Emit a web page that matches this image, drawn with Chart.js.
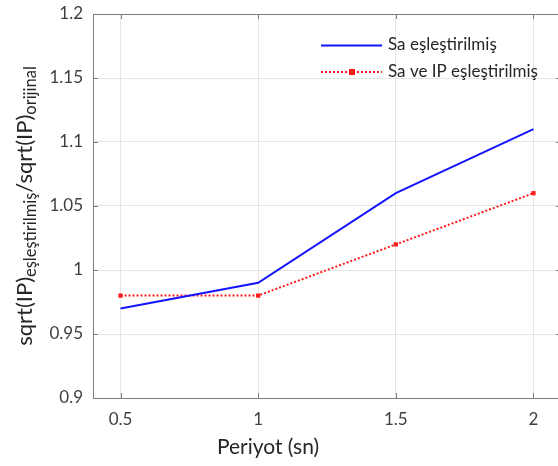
<!DOCTYPE html>
<html>
<head>
<meta charset="utf-8">
<script src="https://cdn.jsdelivr.net/npm/chart.js@4"></script>
<style>
html, body { margin: 0; padding: 0; overflow: hidden; background: #fff; }
canvas { display: block; }
</style>
</head>
<body>
<canvas id="chart" width="566" height="466"></canvas>
<script>
// data
const periods = [0.5, 1, 1.5, 2];
const saMatched = [0.97, 0.99, 1.06, 1.11];
const saIpMatched = [0.98, 0.98, 1.02, 1.06];

const xTicks = [0.5, 1, 1.5, 2];
const xTickLabels = ['0.5', '1', '1.5', '2'];
const yTicks = [0.9, 0.95, 1, 1.05, 1.1, 1.15, 1.2];
const yTickLabels = ['0.9', '0.95', '1', '1.05', '1.1', '1.15', '1.2'];

const seriesNames = ['Sa eşleştirilmiş', 'Sa ve IP eşleştirilmiş'];
const xTitle = 'Periyot (sn)';

const FONT = 'Lato, "Open Sans", sans-serif';
const BLUE = '#1414ff';
const RED = '#ff1a1a';

//********************************************************************************
///Frame, inward ticks, legend and axis titles
//********************************************************************************
const decorPlugin = {
    id: 'decor',
    afterDraw(chart) {
        const ctx = chart.ctx;
        const area = chart.chartArea;
        const xs = chart.scales.x;
        const ys = chart.scales.y;

        ctx.save();
        // box
        ctx.strokeStyle = '#7f7f7f';
        ctx.lineWidth = 1;
        ctx.strokeRect(Math.round(area.left) + 0.5, Math.round(area.top) + 0.5,
            Math.round(area.right - area.left), Math.round(area.bottom - area.top));

        // tick marks pointing inside
        ctx.beginPath();
        xTicks.forEach(v => {
            const px = Math.round(xs.getPixelForValue(v)) + 0.5;
            ctx.moveTo(px, area.bottom); ctx.lineTo(px, area.bottom - 5);
            ctx.moveTo(px, area.top); ctx.lineTo(px, area.top + 5);
        });
        yTicks.forEach(v => {
            const py = Math.round(ys.getPixelForValue(v)) + 0.5;
            ctx.moveTo(area.left, py); ctx.lineTo(area.left + 5, py);
            ctx.moveTo(area.right, py); ctx.lineTo(area.right - 5, py);
        });
        ctx.stroke();

        // legend (no box, transparent)
        ctx.lineWidth = 2;
        ctx.strokeStyle = BLUE;
        ctx.beginPath();
        ctx.moveTo(321, 45.5); ctx.lineTo(382, 45.5);
        ctx.stroke();

        ctx.strokeStyle = RED;
        ctx.setLineDash([2, 2]);
        ctx.beginPath();
        ctx.moveTo(321, 72); ctx.lineTo(382, 72);
        ctx.stroke();
        ctx.setLineDash([]);
        ctx.fillStyle = RED;
        ctx.fillRect(349, 69, 6, 6);

        ctx.fillStyle = '#262626';
        ctx.font = '17px ' + FONT;
        ctx.textBaseline = 'middle';
        ctx.textAlign = 'left';
        ctx.fillText(seriesNames[0], 388, 45);
        ctx.fillText(seriesNames[1], 388, 72);

        // x axis title
        ctx.font = '21px ' + FONT;
        ctx.textAlign = 'center';
        ctx.fillText(xTitle, 268, 447);

        // y axis title with subscripts, rotated
        const parts = [
            { t: 'sqrt(IP)', size: 22, dy: 0 },
            { t: 'eşleştirilmiş', size: 16.5, dy: 4 },
            { t: '/sqrt(IP)', size: 22, dy: 0 },
            { t: 'orijinal', size: 16.5, dy: 4 }
        ];
        let total = 0;
        parts.forEach(p => {
            ctx.font = p.size + 'px ' + FONT;
            p.w = ctx.measureText(p.t).width;
            total += p.w;
        });
        ctx.translate(32, 206);
        ctx.rotate(-Math.PI / 2);
        ctx.textAlign = 'left';
        ctx.textBaseline = 'alphabetic';
        let cx = -total / 2;
        parts.forEach(p => {
            ctx.font = p.size + 'px ' + FONT;
            ctx.fillText(p.t, cx, p.dy);
            cx += p.w;
        });
        ctx.restore();
    }
};

//********************************************************************************
///Chart
//********************************************************************************
const chart = new Chart(document.getElementById('chart'), {
    type: 'line',
    data: {
        datasets: [{
            label: seriesNames[0],
            data: periods.map((p, i) => ({ x: p, y: saMatched[i] })),
            borderColor: BLUE,
            borderWidth: 2,
            pointRadius: 0,
            tension: 0
        }, {
            label: seriesNames[1],
            data: periods.map((p, i) => ({ x: p, y: saIpMatched[i] })),
            borderColor: RED,
            backgroundColor: RED,
            borderWidth: 2,
            borderDash: [2, 2],
            pointStyle: 'rect',
            pointRadius: 3,
            pointBorderWidth: 0,
            tension: 0
        }]
    },
    options: {
        responsive: false,
        animation: false,
        layout: { padding: { left: 0, right: 5, top: 14, bottom: 0 } },
        plugins: { legend: { display: false }, tooltip: { enabled: false } },
        scales: {
            x: {
                type: 'linear',
                min: 0.4,
                max: 2.1,
                afterBuildTicks: scale => { scale.ticks = xTicks.map(v => ({ value: v })); },
                afterFit: scale => {
                    scale.height = 68;
                    scale.paddingLeft = 0; scale.paddingRight = 0;
                },
                ticks: {
                    callback: (v, i) => xTickLabels[i],
                    color: '#404040',
                    font: { family: FONT, size: 17 },
                    padding: 11,
                    maxRotation: 0
                },
                grid: { color: '#e5e5e5', drawTicks: false },
                border: { display: false }
            },
            y: {
                min: 0.9,
                max: 1.2,
                afterBuildTicks: scale => { scale.ticks = yTicks.map(v => ({ value: v })); },
                afterFit: scale => {
                    scale.width = 93;
                    scale.paddingTop = 0; scale.paddingBottom = 0;
                },
                ticks: {
                    callback: (v, i) => yTickLabels[i],
                    color: '#404040',
                    font: { family: FONT, size: 17 },
                    padding: 10
                },
                grid: { color: '#e5e5e5', drawTicks: false },
                border: { display: false }
            }
        }
    },
    plugins: [decorPlugin]
});
</script>
</body>
</html>
